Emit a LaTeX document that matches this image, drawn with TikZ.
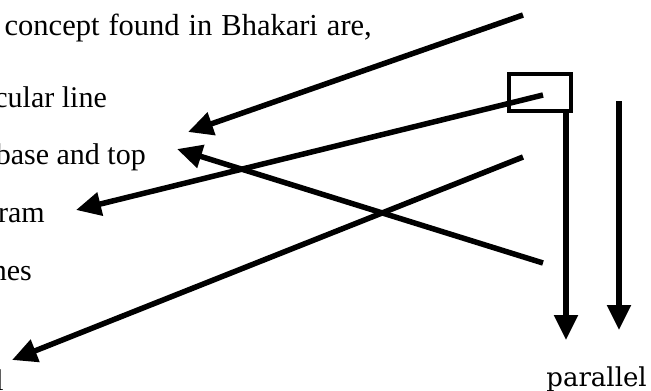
\documentclass[tikz,border=0pt]{standalone}
\usepackage{fontspec}
\setmainfont{Liberation Serif}
\newfontfamily\parfont{DejaVu Serif}
\usetikzlibrary{arrows.meta}
\begin{document}
\begin{tikzpicture}[x=1pt,y=-1pt,
  txt/.style={anchor=base east,inner sep=0pt,font=\fontsize{30}{36}\selectfont},
  conn/.style={line width=5.5pt,-{Triangle[length=25pt,width=23pt]}},
  frame/.style={draw,line width=4pt,inner sep=0pt}]
\useasboundingbox (0,0) rectangle (651,391);
\clip (0,0) rectangle (651,391);
% texts
\node[txt,font=\fontsize{30.5}{36}\selectfont] (t1) at (372,35) {\spaceskip=9pt concept found in Bhakari are,};
\node[txt] (t2) at (107,107) {cular line};
\node[txt] (t3) at (146,164) {base and top};
\node[txt] (t4) at (45,222) {ram};
\node[txt] (t5) at (32,280) {nes};
\node[txt] (t6) at (4,390) {l};
\node[anchor=base east,inner sep=0pt,font=\parfont\fontsize{26}{31}\selectfont] (par) at (647,386) {parallel};
% box
\node[frame,minimum width=62pt,minimum height=37pt] (box) at (540,92.5) {};
% endpoints
\coordinate (s1) at (523,15);
\coordinate (e1) at (188,132);
\coordinate (s2) at (543,95);
\coordinate (e2) at (76,210);
\coordinate (s3) at (543,263);
\coordinate (e3) at (177,149);
\coordinate (s4) at (523,157);
\coordinate (e4) at (12,360);
\coordinate (e5) at (566,340);
\coordinate (s6) at (619,101);
\coordinate (e6) at (619,330);
% connectors
\draw[conn] (s1) -- (e1);
\draw[conn] (s2) -- (e2);
\draw[conn] (s3) -- (e3);
\draw[conn] (s4) -- (e4);
\draw[conn] (box.south -| e5) -- (e5);
\draw[conn] (s6) -- (e6);
\end{tikzpicture}
\end{document}
